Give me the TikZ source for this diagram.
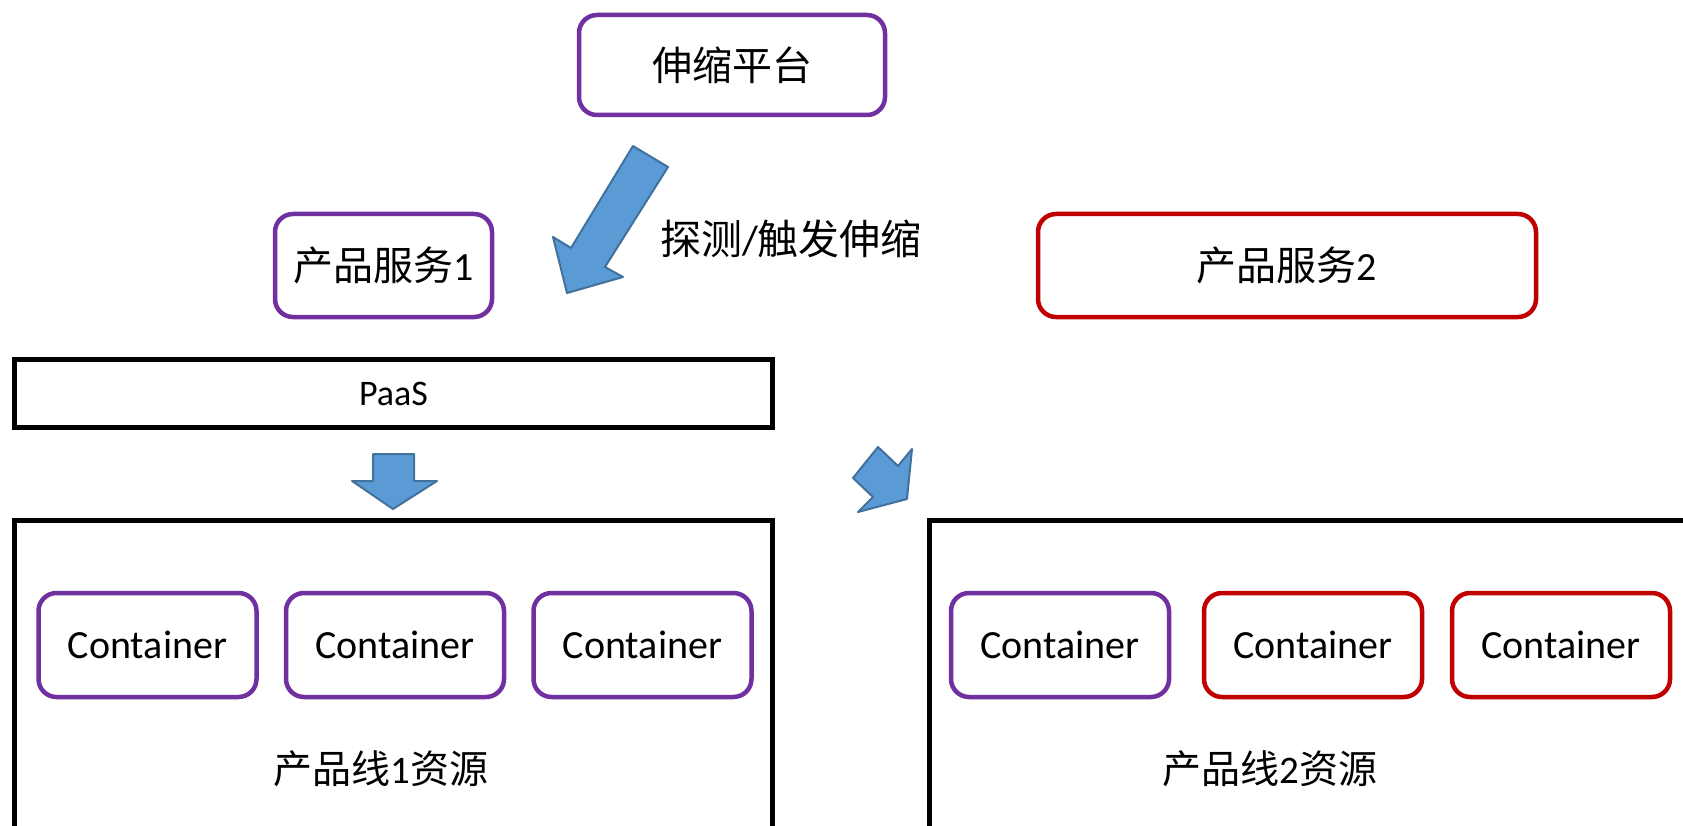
\documentclass[tikz,border=0pt]{standalone}
\usepackage{fontspec}
\setmainfont{Carlito}
\newfontfamily\cjk{Noto Sans CJK SC}
\definecolor{pur}{HTML}{7030A0}
\definecolor{redc}{HTML}{C00000}
\definecolor{arrowfill}{HTML}{5B9BD5}
\definecolor{arrowline}{HTML}{41719C}
\begin{document}
\begin{tikzpicture}[x=1pt,y=-1pt,
  rbox/.style={draw, rounded corners=18pt, line width=4.5pt, fill=white, inner sep=0pt, font=\fontsize{40}{48}\selectfont},
  purbox/.style={rbox, draw=pur},
  redbox/.style={rbox, draw=redc},
  blkbox/.style={draw=black, line width=5pt, inner sep=0pt, outer sep=0pt},
  blockarrow/.style={fill=arrowfill, draw=arrowline, line width=2pt, line join=round},
  lbl/.style={font=\fontsize{39}{46}\selectfont, inner sep=0pt}
]
\useasboundingbox (0,0) rectangle (1683,826);
\clip (0,0) rectangle (1683,826);

% top boxes
\node[purbox, minimum width=306, minimum height=100] (platform) at (732,65) {\cjk 伸缩平台};
\node[purbox, minimum width=217, minimum height=103] (svc1) at (383.5,265.5) {{\cjk 产品服务}1};
\node[redbox, minimum width=498, minimum height=103] (svc2) at (1287,265.5) {{\cjk 产品服务}2};

% PaaS bar
\node[blkbox, minimum width=758, minimum height=68, font=\fontsize{36}{42}\selectfont] (paas) at (393.5,393.5) {PaaS};

% resource boxes
\node[blkbox, minimum width=758, minimum height=340, anchor=north west] (res1) at (14.5,520.5) {};
\node[blkbox, minimum width=800, minimum height=340, anchor=north west] (res2) at (929.5,520.5) {};

% containers
\node[purbox, minimum width=218, minimum height=104] (c11) at (147.5,645) {Container};
\node[purbox, minimum width=218, minimum height=104] (c12) at (395,645) {Container};
\node[purbox, minimum width=218, minimum height=104] (c13) at (642.5,645) {Container};
\node[purbox, minimum width=218, minimum height=104] (c21) at (1060,645) {Container};
\node[redbox, minimum width=218, minimum height=104] (c22) at (1313,645) {Container};
\node[redbox, minimum width=218, minimum height=104] (c23) at (1561,645) {Container};

% labels
\node[lbl] (l1) at (381,769) {{\cjk 产品线}1{\cjk 资源}};
\node[lbl] (l2) at (1270,769) {{\cjk 产品线}2{\cjk 资源}};
\node[lbl, font=\fontsize{41}{48}\selectfont] (probe) at (791,239) {{\cjk 探测}/{\cjk 触发伸缩}};

% block arrows
\draw[blockarrow] (633,146) -- (668,167) -- (605,267) -- (623,277) -- (567,293) -- (553,237) -- (571,248) -- cycle;
\draw[blockarrow] (373,454) -- (414,454) -- (414,481) -- (437,481) -- (393,509) -- (352,481) -- (373,481) -- cycle;
\draw[blockarrow] (878,447) -- (898,466) -- (912,449) -- (907,499) -- (858,512) -- (873,497) -- (853,478) -- cycle;
\end{tikzpicture}
\end{document}
